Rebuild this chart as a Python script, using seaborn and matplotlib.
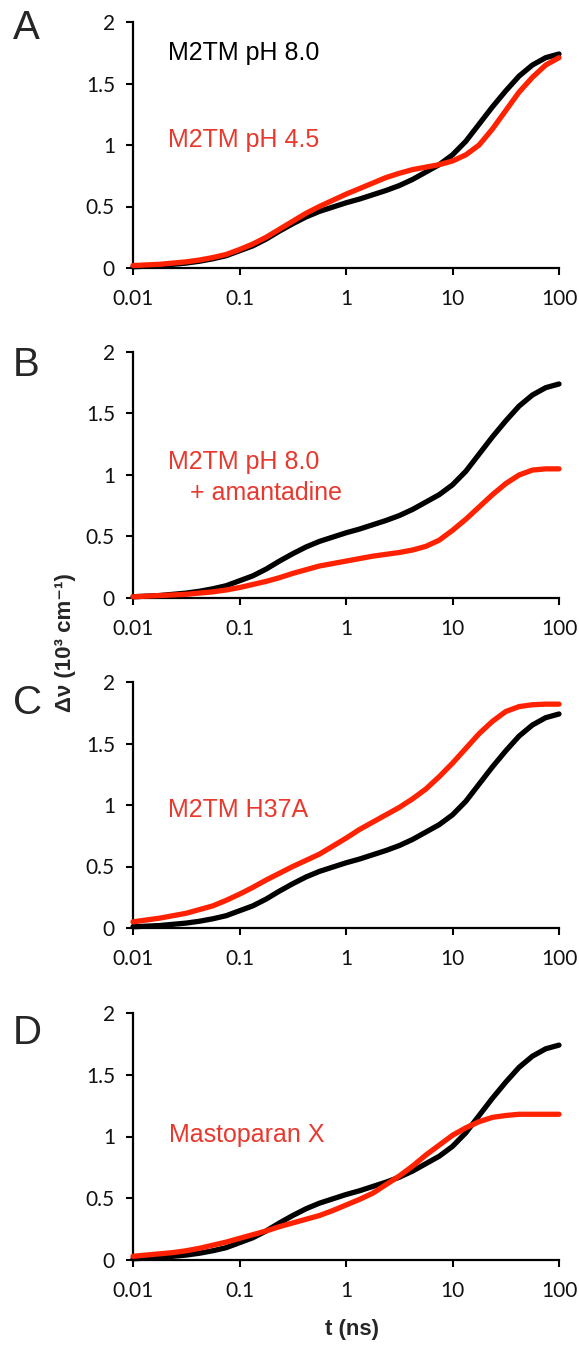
import numpy as np
import pandas as pd
import matplotlib
matplotlib.use("Agg")
import matplotlib.pyplot as plt
import seaborn as sns

# time axis: log10(t / ns), read every 1/8 decade
log10_t = [-2.0, -1.875, -1.75, -1.625, -1.5, -1.375, -1.25, -1.125,
           -1.0, -0.875, -0.75, -0.625, -0.5, -0.375, -0.25, -0.125,
           0.0, 0.125, 0.25, 0.375, 0.5, 0.625, 0.75, 0.875,
           1.0, 1.125, 1.25, 1.375, 1.5, 1.625, 1.75, 1.875, 2.0]

# reference curve, M2TM pH 8.0 (same in every panel)
m2tm_ph8 = [0.01, 0.015, 0.02, 0.03, 0.04, 0.055, 0.075, 0.10,
            0.14, 0.18, 0.235, 0.30, 0.36, 0.415, 0.46, 0.495,
            0.53, 0.56, 0.595, 0.63, 0.67, 0.72, 0.78, 0.84,
            0.92, 1.03, 1.17, 1.31, 1.44, 1.56, 1.65, 1.71, 1.74]
# red curves
m2tm_ph45 = [0.02, 0.025, 0.03, 0.04, 0.05, 0.065, 0.085, 0.11,
             0.15, 0.195, 0.25, 0.315, 0.38, 0.445, 0.50, 0.55,
             0.60, 0.645, 0.69, 0.735, 0.77, 0.80, 0.82, 0.84,
             0.87, 0.92, 1.00, 1.13, 1.28, 1.43, 1.55, 1.65, 1.71]
m2tm_amant = [0.01, 0.015, 0.02, 0.025, 0.03, 0.04, 0.05, 0.065,
              0.085, 0.11, 0.135, 0.165, 0.20, 0.23, 0.26, 0.28,
              0.30, 0.32, 0.34, 0.355, 0.37, 0.39, 0.42, 0.47,
              0.55, 0.64, 0.74, 0.84, 0.93, 1.00, 1.04, 1.05, 1.05]
m2tm_h37a = [0.05, 0.065, 0.08, 0.10, 0.12, 0.15, 0.18, 0.225,
             0.275, 0.33, 0.39, 0.445, 0.50, 0.55, 0.60, 0.665,
             0.73, 0.80, 0.86, 0.92, 0.98, 1.05, 1.13, 1.23,
             1.34, 1.46, 1.58, 1.68, 1.76, 1.80, 1.815, 1.82, 1.82]
mastoparan = [0.03, 0.04, 0.05, 0.06, 0.075, 0.095, 0.12, 0.145,
              0.175, 0.205, 0.235, 0.27, 0.30, 0.33, 0.36, 0.40,
              0.445, 0.49, 0.54, 0.61, 0.68, 0.76, 0.85, 0.93,
              1.01, 1.07, 1.12, 1.155, 1.17, 1.18, 1.18, 1.18, 1.18]

x_ticks = [0.01, 0.1, 1, 10, 100]
x_ticklabels = ["0.01", "0.1", "1", "10", "100"]
y_ticks = [0, 0.5, 1, 1.5, 2]
y_ticklabels = ["0", "0.5", "1", "1.5", "2"]

letters = ["A", "B", "C", "D"]
red_curves = [m2tm_ph45, m2tm_amant, m2tm_h37a, mastoparan]

RED = "#ff2200"
RED_TXT = "#e8392f"

sns.set_style("ticks")
plt.rcParams["font.family"] = ["Lato", "DejaVu Sans"]

fig = plt.figure(figsize=(5.79, 13.57), dpi=100)

H = 1357.0
W = 579.0
left = 133 / W
width = 426 / W
tops = [22, 352, 682, 1013]
bottoms = [268, 598, 928, 1260]
letter_y = [28, 365, 703, 1033]

t_ns = 10 ** np.array(log10_t)

for i in range(4):
    ax = fig.add_axes([left, 1 - bottoms[i] / H, width, (bottoms[i] - tops[i]) / H])
    df = pd.DataFrame({"t": t_ns, "black": m2tm_ph8, "red": red_curves[i]})
    sns.lineplot(data=df, x="t", y="black", color="black", lw=3.8, ax=ax,
                 clip_on=False, zorder=3)
    sns.lineplot(data=df, x="t", y="red", color=RED, lw=3.8, ax=ax,
                 clip_on=False, zorder=4)
    ax.set_xscale("log")
    ax.set_xlim(0.01, 100)
    ax.set_ylim(0, 2)
    ax.set_xticks(x_ticks)
    ax.set_xticklabels(x_ticklabels)
    ax.set_yticks(y_ticks)
    ax.set_yticklabels(y_ticklabels)
    ax.minorticks_off()
    ax.tick_params(axis="both", labelsize=15, length=5, width=1.5,
                   color="black", labelcolor="#111111")
    ax.tick_params(axis="x", pad=10)
    ax.tick_params(axis="y", pad=8)
    ax.set_xlabel("")
    ax.set_ylabel("")
    for s in ["top", "right"]:
        ax.spines[s].set_visible(False)
    for s in ["left", "bottom"]:
        ax.spines[s].set_linewidth(1.6)
        ax.spines[s].set_color("black")
    fig.text(13 / W, 1 - letter_y[i] / H, letters[i], fontsize=29,
             family=["Liberation Sans", "DejaVu Sans"], va="center", ha="left")

    tkw = dict(transform=ax.transAxes, fontsize=18, va="center", ha="left",
               family=["Liberation Sans", "DejaVu Sans"])
    if i == 0:
        ax.text(0.082, 0.874, "M2TM pH 8.0", color="black", **tkw)
        ax.text(0.082, 0.52, "M2TM pH 4.5", color=RED_TXT, **tkw)
    elif i == 1:
        ax.text(0.082, 0.553, "M2TM pH 8.0", color=RED_TXT, **tkw)
        ax.text(0.134, 0.427, "+ amantadine", color=RED_TXT, **tkw)
    elif i == 2:
        ax.text(0.082, 0.48, "M2TM H37A", color=RED_TXT, **tkw)
    else:
        ax.text(0.085, 0.506, "Mastoparan X", color=RED_TXT, **tkw)

fig.text(65 / W, 1 - 643 / H, "Δν (10³ cm⁻¹)", rotation=90, fontsize=16,
         fontweight="bold", family=["Liberation Sans", "DejaVu Sans"],
         ha="center", va="center")
fig.text(352 / W, 1 - 1330 / H, "t (ns)", fontsize=16, fontweight="bold",
         family=["Liberation Sans", "DejaVu Sans"], ha="center", va="center")

fig.savefig("out.png", dpi=100)
